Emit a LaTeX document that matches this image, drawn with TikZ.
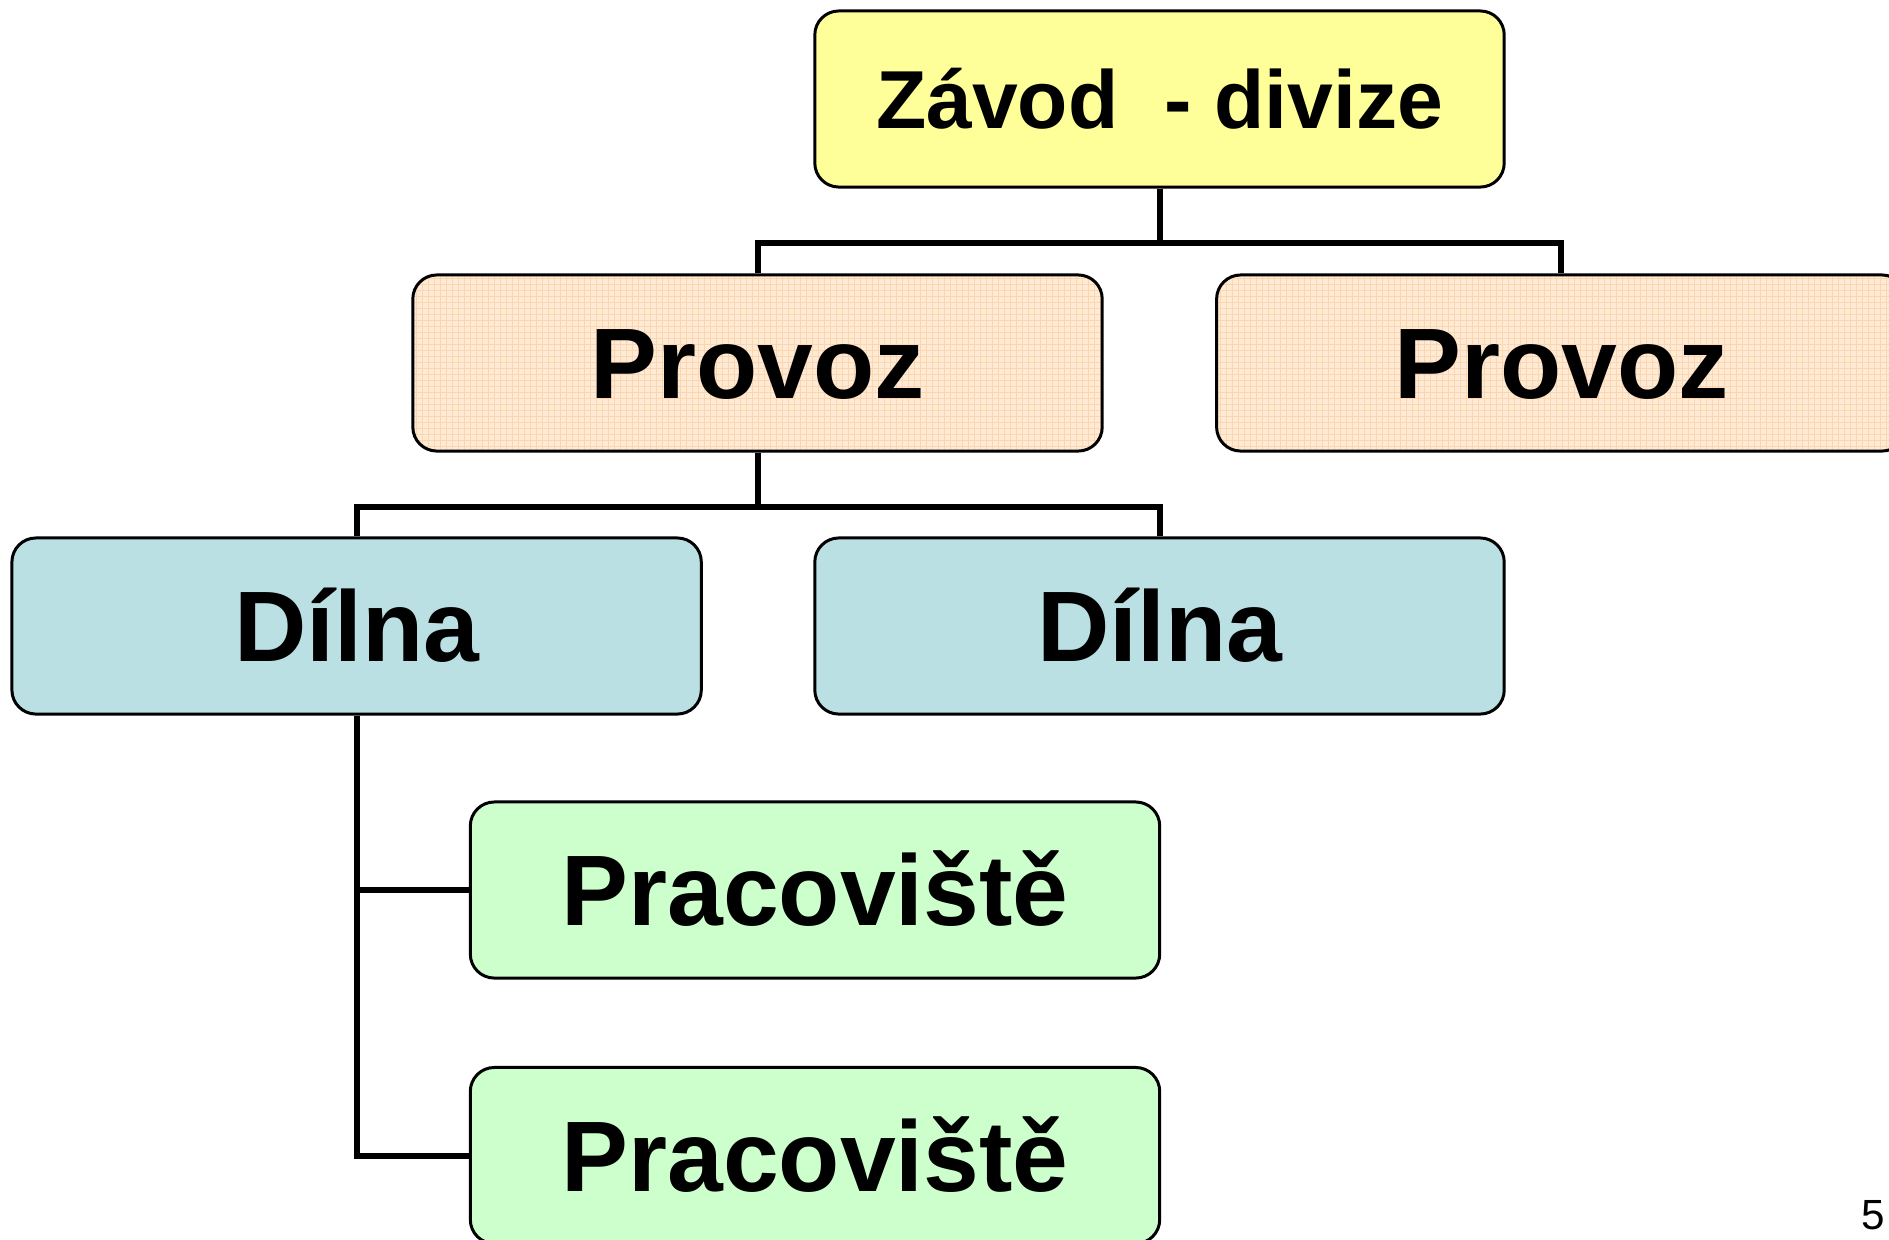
\documentclass[tikz,border=0pt]{standalone}
\usepackage{fontspec}
\setmainfont{Liberation Sans}
\definecolor{yel}{HTML}{FFFF99}
\definecolor{peach}{HTML}{FFEAD6}
\definecolor{peachgrid}{HTML}{FCD6AE}
\definecolor{teal}{HTML}{BAE0E3}
\definecolor{mint}{HTML}{CCFFCC}
\tikzset{
  orgbox/.style={draw=black, line width=0.85pt, rounded corners=0.24cm,
    minimum width=6.89cm, minimum height=1.76cm, inner sep=0pt,
    font=\bfseries\fontsize{28.5pt}{30pt}\selectfont,
    text height=20.4pt, text depth=0pt},
  topbox/.style={orgbox, fill=yel, font=\bfseries\fontsize{23.4pt}{25pt}\selectfont,
    text height=16.8pt},
  provbox/.style={orgbox, fill=peach,
    path picture={\draw[peachgrid, line width=0.3pt]
      (path picture bounding box.south west) grid[step=0.06cm]
      (path picture bounding box.north east);}},
  dilbox/.style={orgbox, fill=teal},
  pracbox/.style={orgbox, fill=mint},
  conn/.style={draw=black, line width=1.7pt}
}
\begin{document}
\begin{tikzpicture}[x=0.01cm, y=-0.01cm]
\useasboundingbox (0,0) rectangle (1889,1239);
\node[topbox] (top) at (1159.5,99) {Závod\ \ - divize};
\node[provbox] (p1) at (757.5,363) {Provoz};
\node[provbox] (p2) at (1561.3,363) {Provoz};
\node[dilbox] (d1) at (356.6,626) {Dílna};
\node[dilbox] (d2) at (1159.5,626) {Dílna};
\node[pracbox] (q1) at (815,890) {Pracoviště};
\node[pracbox] (q2) at (815,1155.5) {Pracoviště};
\node[font=\fontsize{12pt}{14pt}\selectfont, inner sep=0pt] (pg) at (1873,1215) {5};
\coordinate (bar1) at (0,243.3);
\coordinate (bar2) at (0,507);
\draw[conn] (top.south) -- (top.south |- bar1);
\draw[conn] (p1.north) |- (p2.north |- bar1) -- (p2.north);
\draw[conn] (p1.south) -- (p1.south |- bar2);
\draw[conn] (d1.north) |- (d2.north |- bar2) -- (d2.north);
\draw[conn] (d1.south) |- (q2.west);
\draw[conn] (d1.south |- q1.west) -- (q1.west);
\end{tikzpicture}
\end{document}
